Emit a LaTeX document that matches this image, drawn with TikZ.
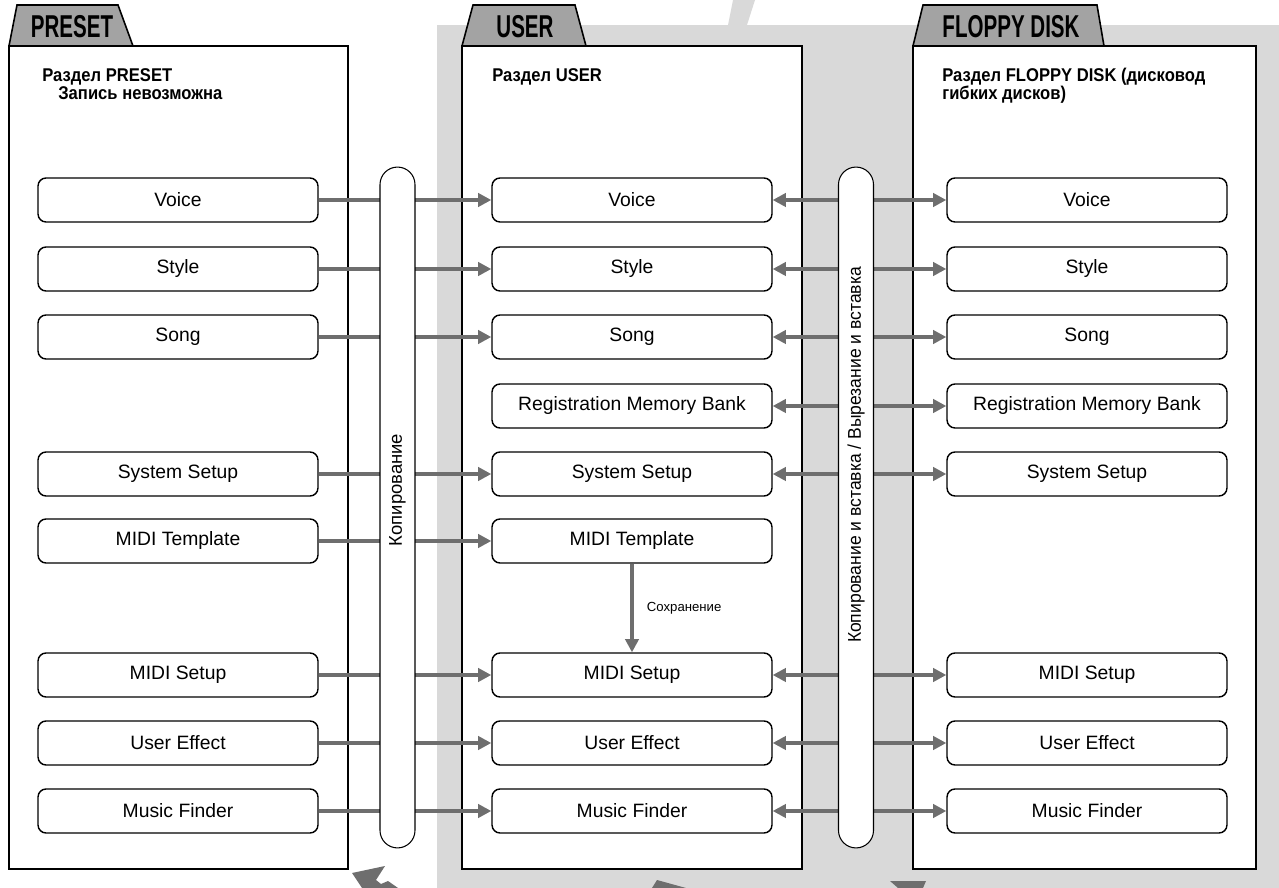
\documentclass[tikz,border=0pt]{standalone}
\usepackage{fontspec}
\setmainfont{Liberation Sans}
\newfontfamily\tabfont[FakeStretch=0.65]{Liberation Sans}
\newfontfamily\hdrfont[FakeStretch=0.9]{Liberation Sans}
\newfontfamily\narrowfont[FakeStretch=0.95]{Liberation Sans}
\usepackage{tikz}
\usetikzlibrary{arrows.meta, positioning}
\definecolor{bggray}{HTML}{D9D9D9}
\definecolor{tabgray}{HTML}{A3A3A3}
\definecolor{linkgray}{HTML}{6E6E6E}

\begin{document}
\begin{tikzpicture}[
    x=0.02cm, y=-0.02cm,
    panel/.style={draw, fill=white, line width=1.6pt},
    tab/.style={draw, fill=tabgray, line width=0.9pt},
    tablbl/.style={font=\tabfont\bfseries\fontsize{18}{18}\selectfont, inner sep=0pt},
    hdr/.style={font=\hdrfont\bfseries\fontsize{10.5}{12}\selectfont, inner sep=0pt, anchor=base west},
    item/.style={draw, rounded corners=0.16cm, minimum width=5.6cm, minimum height=0.88cm, fill=white, line width=0.8pt, font=\fontsize{11}{12}\selectfont, inner sep=0pt},
    bar/.style={draw, fill=white, rounded corners=0.35cm, minimum width=13.62cm, minimum height=0.7cm, line width=0.6pt, rotate=90},
    barlbl/.style={font=\fontsize{10.5}{12}\selectfont, rotate=90, inner sep=0pt},
    link/.style={draw=linkgray, line width=2.2pt, -{Triangle[length=7.5pt, width=7.5pt]}},
    dlink/.style={link, {Triangle[length=7.5pt, width=7.5pt]}-{Triangle[length=7.5pt, width=7.5pt]}},
    savelbl/.style={font=\fontsize{7.5}{9}\selectfont, inner sep=0pt, xshift=0.26cm},
]
\useasboundingbox (0,0) rectangle (1279,888);

% background
\fill[bggray] (437,25) rectangle (1279,888);
\fill[bggray] (728,25) -- (733,0) -- (755,0) -- (747,25) -- cycle;
\fill[linkgray] (352,873) -- (385,866) -- (376,880) -- (381,884) -- (388,881) -- (398,888) -- (362,888) -- cycle;
\fill[linkgray] (657,880) -- (686,888) -- (652,888) -- cycle;
\fill[linkgray] (890,881) -- (926,881) -- (923,888) -- (898,888) -- cycle;

% panels
\draw[tab] (9,46) -- (17,5) -- (118,5) -- (133,46);
\draw[panel] (9,46) rectangle (348,869);
\draw[tab] (462,46) -- (473,5) -- (575,5) -- (586,46);
\draw[panel] (462,46) rectangle (802,869);
\draw[tab] (913,46) -- (923,5) -- (1097,5) -- (1104,46);
\draw[panel] (913,46) rectangle (1256,869);

\node[tablbl] (ptab) at (72,27) {PRESET};
\node[tablbl] (utab) at (525,27) {USER};
\node[tablbl] (ftab) at (1011,27) {FLOPPY DISK};

\node[hdr] (phdr) at (42,82) {Раздел PRESET};
\node[hdr] (phdr2) at (58,100) {Запись невозможна};
\node[hdr] (uhdr) at (492,82) {Раздел USER};
\node[hdr] (fhdr) at (942,82) {Раздел FLOPPY DISK (дисковод};
\node[hdr] (fhdr2) at (942,100) {гибких дисков)};

% PRESET
\node[item] (pvoice) at (178,200) {Voice};
\node[item] (pstyle) at (178,269) {Style};
\node[item] (psong) at (178,337) {Song};
\node[item] (psys) at (178,474) {System Setup};
\node[item] (ptmpl) at (178,541) {MIDI Template};
\node[item] (pmsetup) at (178,675) {MIDI Setup};
\node[item] (pueff) at (178,743) {User Effect};
\node[item] (pmfind) at (178,811) {Music Finder};

% USER
\node[item] (uvoice) at (632,200) {Voice};
\node[item] (ustyle) at (632,269) {Style};
\node[item] (usong) at (632,337) {Song};
\node[item] (ureg) at (632,406) {Registration Memory Bank};
\node[item] (usys) at (632,474) {System Setup};
\node[item] (utmpl) at (632,541) {MIDI Template};
\node[item] (umsetup) at (632,675) {MIDI Setup};
\node[item] (uueff) at (632,743) {User Effect};
\node[item] (umfind) at (632,811) {Music Finder};

% FLOPPY DISK
\node[item] (fvoice) at (1087,200) {Voice};
\node[item] (fstyle) at (1087,269) {Style};
\node[item] (fsong) at (1087,337) {Song};
\node[item] (freg) at (1087,406) {Registration Memory Bank};
\node[item] (fsys) at (1087,474) {System Setup};
\node[item] (fmsetup) at (1087,675) {MIDI Setup};
\node[item] (fueff) at (1087,743) {User Effect};
\node[item] (fmfind) at (1087,811) {Music Finder};

% copy PRESET -> USER
\draw[link] (pvoice) -- (uvoice);
\draw[link] (pstyle) -- (ustyle);
\draw[link] (psong) -- (usong);
\draw[link] (psys) -- (usys);
\draw[link] (ptmpl) -- (utmpl);
\draw[link] (pmsetup) -- (umsetup);
\draw[link] (pueff) -- (uueff);
\draw[link] (pmfind) -- (umfind);

% USER <-> FLOPPY DISK
\draw[dlink] (uvoice) -- (fvoice);
\draw[dlink] (ustyle) -- (fstyle);
\draw[dlink] (usong) -- (fsong);
\draw[dlink] (ureg) -- (freg);
\draw[dlink] (usys) -- (fsys);
\draw[dlink] (umsetup) -- (fmsetup);
\draw[dlink] (uueff) -- (fueff);
\draw[dlink] (umfind) -- (fmfind);

\draw[link] (utmpl) -- node[savelbl, right] {Сохранение} (umsetup);

% bars
\node[bar] (copybar) at (397.5,507.5) {};
\node[bar] (diskbar) at (856,507.5) {};
\node[barlbl] (copylbl) at (397.5,490) {Копирование};
\node[barlbl, font=\narrowfont\fontsize{10.5}{12}\selectfont] (disklbl) at (856,455) {Копирование и вставка / Вырезание и вставка};
\end{tikzpicture}
\end{document}
